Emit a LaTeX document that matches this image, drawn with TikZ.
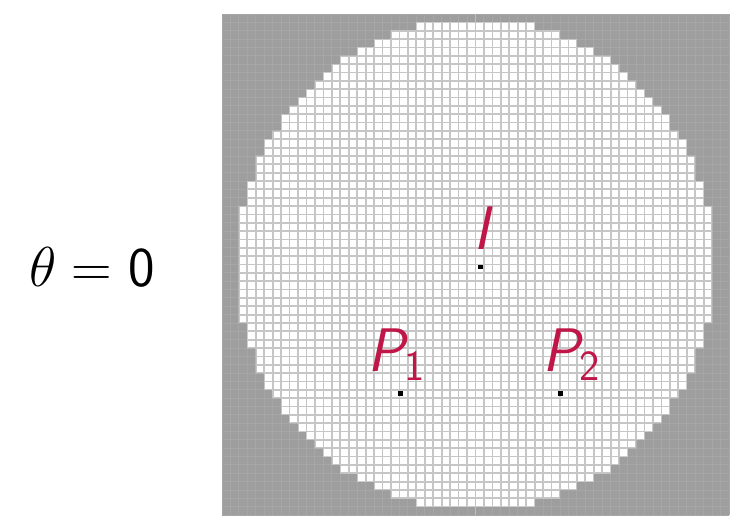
\RequirePackage{fix-cm}
\documentclass[tikz,border=0pt]{standalone}
\usepackage{fontspec}
\definecolor{labelred}{RGB}{192,22,72}
\definecolor{maskgray}{RGB}{158,158,158}
\tikzset{
  cellgrid/.style={draw=gray!45, line width=1pt},
  maskgrid/.style={draw=gray!70, line width=0.5pt},
  pixdot/.style={rectangle, fill=black, inner sep=0pt, minimum size=2.8pt},
  ptlabel/.style={text=labelred, inner sep=0pt, font=\fontsize{35}{40}\selectfont\sffamily\itshape}
}
\begin{document}
\begin{tikzpicture}[x=0.169cm, y=-0.167cm]
\useasboundingbox (-26.27,-1.68) rectangle (60.12,60.24);
\fill[maskgray] (0,0) rectangle (60,60);
\foreach \i in {0,...,60}{
  \draw[maskgrid] (\i,0) -- (\i,60);
  \draw[maskgrid] (0,\i) -- (60,\i);
}
\begin{scope}
\clip \foreach \j [evaluate=\j as \k using {int(floor(28.2*sqrt(max(1-((\j+0.5-30)/29.4)^2,0))+0.5))}] in {0,...,59} {(30-\k,\j) rectangle (30+\k,\j+1)};
\fill[white] (0,0) rectangle (60,60);
\foreach \i in {0,...,60}{
  \draw[cellgrid] (\i,0) -- (\i,60);
  \draw[cellgrid] (0,\i) -- (60,\i);
}
\end{scope}
\node[pixdot] (I) at (30.6,30.3) {};
\node[pixdot] (P1) at (21.1,45.4) {};
\node[pixdot] (P2) at (40.1,45.4) {};
\node[ptlabel] (labI) at (30.65,25.6) {I};
\node[ptlabel] (labP1) at (20.7,40.8) {P\textsubscript{\upshape 1}};
\node[ptlabel] (labP2) at (41.4,40.8) {P\textsubscript{\upshape 2}};
\node[inner sep=0pt, font=\fontsize{32}{38}\selectfont] (theta) at (-15.4,30.4) {$\theta = \textsf{0}$};
\end{tikzpicture}
\end{document}
